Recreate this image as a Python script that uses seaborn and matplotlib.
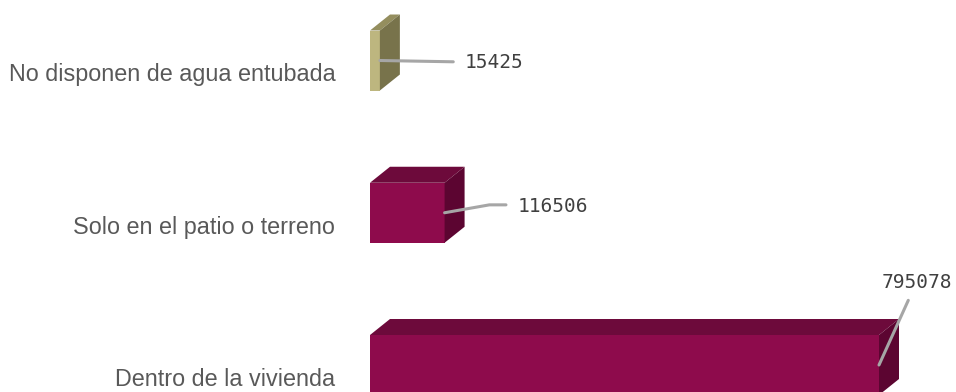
import numpy as np
import pandas as pd
import seaborn as sns
import matplotlib.pyplot as plt
from matplotlib.patches import Polygon
from matplotlib.transforms import ScaledTranslation

# data
categories = ["No disponen de agua entubada", "Solo en el patio o terreno", "Dentro de la vivienda"]
values = [15425, 116506, 795078]

front_colors = ["#BDB67F", "#8E0B4C", "#8E0B4C"]
top_colors = ["#948E5E", "#6D0A3B", "#6D0A3B"]
side_colors = ["#78734B", "#5C0531", "#5C0531"]

W, H, DPI = 956, 392, 100
AX_LEFT, AX_RIGHT = 370, 940  # pixels
PX_PER_VAL = 509 / max(values)
ROW_PX = 152.25
FIRST_ROW_PX = 60.5
DEPTH_X, DEPTH_Y = 20, 16  # pixels

sns.set_theme(style="white")
plt.rcParams["font.family"] = ["Liberation Sans", "DejaVu Sans"]

fig = plt.figure(figsize=(W / DPI, H / DPI), dpi=DPI)
ax = fig.add_axes([AX_LEFT / W, 0, (AX_RIGHT - AX_LEFT) / W, 1])

df = pd.DataFrame({"cat": categories, "val": values})
sns.barplot(data=df, x="val", y="cat", hue="cat", palette=front_colors,
            orient="h", width=60 / ROW_PX, legend=False, saturation=1,
            linewidth=0, ax=ax)

xmax = (AX_RIGHT - AX_LEFT) / PX_PER_VAL
ax.set_xlim(0, xmax)
ax.set_ylim(len(categories) - 1 + (H - FIRST_ROW_PX - ROW_PX * (len(categories) - 1)) / ROW_PX,
            -FIRST_ROW_PX / ROW_PX)

# 3d faces (top + right side), offset back and up
dx = DEPTH_X / PX_PER_VAL
dy = -DEPTH_Y / ROW_PX
for i, bar in enumerate(ax.patches):
    x0, y0 = bar.get_x(), bar.get_y()
    w, h = bar.get_width(), bar.get_height()
    x1 = x0 + w
    ytop, ybot = min(y0, y0 + h), max(y0, y0 + h)
    top = Polygon([(x0, ytop), (x1, ytop), (x1 + dx, ytop + dy), (x0 + dx, ytop + dy)],
                  closed=True, facecolor=top_colors[i], edgecolor="none")
    side = Polygon([(x1, ytop), (x1 + dx, ytop + dy), (x1 + dx, ybot + dy), (x1, ybot)],
                   closed=True, facecolor=side_colors[i], edgecolor="none")
    ax.add_patch(top)
    ax.add_patch(side)

# value labels with leader lines
label_offsets = [(85, -1.5), (73, 6), (38, 73)]
label_align = [("left", "center"), ("left", "center"), ("center", "bottom")]
rel = [(0, 0.5), (0, 0.6), (0.43, 0)]
conn = ["arc3", "angle,angleA=180,angleB=10,rad=0", "arc3"]
shrink = [6, 6, 4]
for i, v in enumerate(values):
    ax.annotate(str(v), xy=(v, i), xytext=label_offsets[i], textcoords="offset pixels",
                ha=label_align[i][0], va=label_align[i][1],
                fontsize=14, color="#404040", family="DejaVu Sans Mono",
                arrowprops=dict(arrowstyle="-", color="#A6A6A6", lw=2.2,
                                shrinkA=shrink[i], shrinkB=0, relpos=rel[i],
                                connectionstyle=conn[i]))

ax.set_xlabel("")
ax.set_ylabel("")
ax.set_xticks([])
ax.tick_params(axis="y", length=0, pad=25, labelsize=16.8, labelcolor="#595959")
for lab in ax.get_yticklabels():
    lab.set_transform(lab.get_transform() + ScaledTranslation(0, -12 / DPI, fig.dpi_scale_trans))
sns.despine(ax=ax, left=True, bottom=True)

fig.savefig("out.png", dpi=DPI)
